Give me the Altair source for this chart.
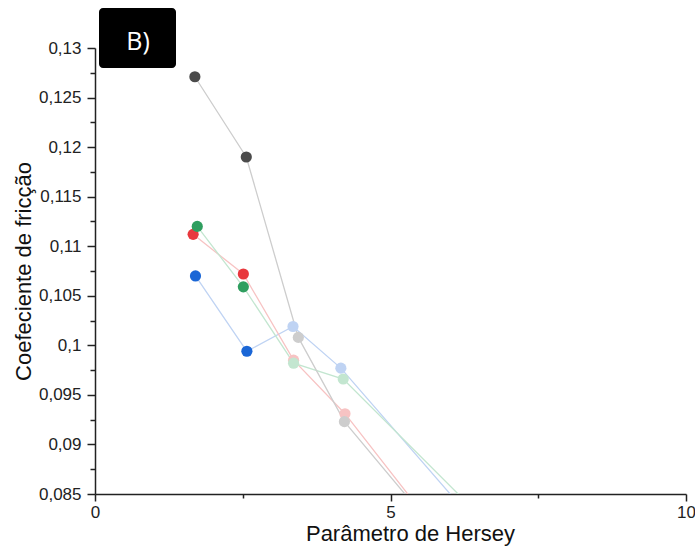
import altair as alt
import pandas as pd

# Friction coefficient vs. Hersey parameter, four series
series = ["azul", "vermelho", "verde", "preto"]
hersey = {
    "azul":     [1.70, 2.57, 3.35, 4.16, 7.0],
    "vermelho": [1.66, 2.51, 3.36, 4.23, 6.0],
    "verde":    [1.73, 2.51, 3.36, 4.20, 7.0],
    "preto":    [1.69, 2.56, 3.44, 4.22, 6.0],
}
friccao = {
    "azul":     [0.1070, 0.0994, 0.1019, 0.0977, 0.0782],
    "vermelho": [0.1112, 0.1072, 0.0985, 0.0931, 0.0796],
    "verde":    [0.1120, 0.1059, 0.0982, 0.0966, 0.0799],
    "preto":    [0.1271, 0.1190, 0.1008, 0.0923, 0.0796],
}
panel_label = ["B)"]

x_ticks = [0, 2.5, 5, 7.5, 10]
y_ticks = [0.085 + 0.0025 * i for i in range(19)]

strong = {"azul": "#1a66d6", "vermelho": "#e8383d", "verde": "#2f9e5f", "preto": "#4b4b4b"}
pale = {"azul": "#bfd3f3", "vermelho": "#f7c3c3", "verde": "#c3e6d0", "preto": "#cdcdcd"}

rows = []
for s in series:
    for i, (xv, yv) in enumerate(zip(hersey[s], friccao[s])):
        rows.append({"serie": s, "idx": i, "x": xv, "y": yv,
                     "tom": f"{s}-{'a' if i < 2 else 'b'}"})
df = pd.DataFrame(rows)

tone_domain = [f"{s}-{t}" for s in series for t in ("a", "b")]
tone_range = [c for s in series for c in (strong[s], pale[s])]

axis_color = "#222222"
text_font = "Liberation Sans"
x_enc = alt.X(
    "x:Q",
    scale=alt.Scale(domain=[0, 10], nice=False, zero=False),
    axis=alt.Axis(
        values=x_ticks, grid=False,
        labelExpr="datum.value % 5 == 0 ? format(datum.value, 'd') : ''",
        tickSize={"condition": {"test": "datum.value % 5 == 0", "value": 7}, "value": 4},
        domainColor=axis_color, tickColor=axis_color, domainWidth=1.5, tickWidth=1.5,
        labelFont=text_font, labelFontSize=17, labelColor=axis_color,
        labelPadding=3, labelFlush=False,
        title="Parâmetro de Hersey", titleFont=text_font, titleFontSize=22,
        titleFontWeight="normal", titleColor="#111111", titleX=315, titlePadding=3,
    ),
)
y_enc = alt.Y(
    "y:Q",
    scale=alt.Scale(domain=[0.085, 0.13], nice=False, zero=False),
    axis=alt.Axis(
        values=y_ticks, grid=False,
        labelExpr="round(datum.value * 400) % 2 == 0 ? replace(format(datum.value, '.3~f'), '.', ',') : ''",
        tickSize={"condition": {"test": "round(datum.value * 400) % 2 == 0", "value": 8}, "value": 5},
        domainColor=axis_color, tickColor=axis_color, domainWidth=1.5, tickWidth=1.5,
        labelFont=text_font, labelFontSize=17, labelColor=axis_color,
        labelPadding=6, labelFlush=False,
        title="Coefeciente de fricção", titleFont=text_font, titleFontSize=22,
        titleFontWeight="normal", titleColor="#111111", titlePadding=3,
    ),
)

lines = alt.Chart(df).mark_line(clip=True, strokeWidth=1.3).encode(
    x=x_enc, y=y_enc,
    color=alt.Color("serie:N", scale=alt.Scale(domain=series, range=[pale[s] for s in series]), legend=None),
    detail="serie:N",
    order="idx:Q",
)

points = alt.Chart(df).mark_circle(size=125, opacity=1, clip=True).encode(
    x=x_enc, y=y_enc,
    color=alt.Color("tom:N", scale=alt.Scale(domain=tone_domain, range=tone_range), legend=None),
)

label_df = pd.DataFrame({"t": panel_label})
box = alt.Chart(label_df).mark_rect(color="black", cornerRadius=4).encode(
    x=alt.value(4), x2=alt.value(81), y=alt.value(-40), y2=alt.value(20),
)
box_text = alt.Chart(label_df).mark_text(
    color="white", font="Open Sans", fontSize=25, align="center", baseline="middle",
).encode(x=alt.value(43), y=alt.value(-6), text="t:N")

chart = (
    alt.layer(lines, points, box, box_text)
    .resolve_scale(color="independent")
    .properties(
        width=591, height=446,
        autosize=alt.AutoSizeParams(type="none"),
        padding={"left": 95, "top": 48, "right": 9, "bottom": 57},
        background="white",
    )
    .configure_view(stroke=None)
)

chart.save("out.html", embed_options={"renderer": "svg", "actions": False})
